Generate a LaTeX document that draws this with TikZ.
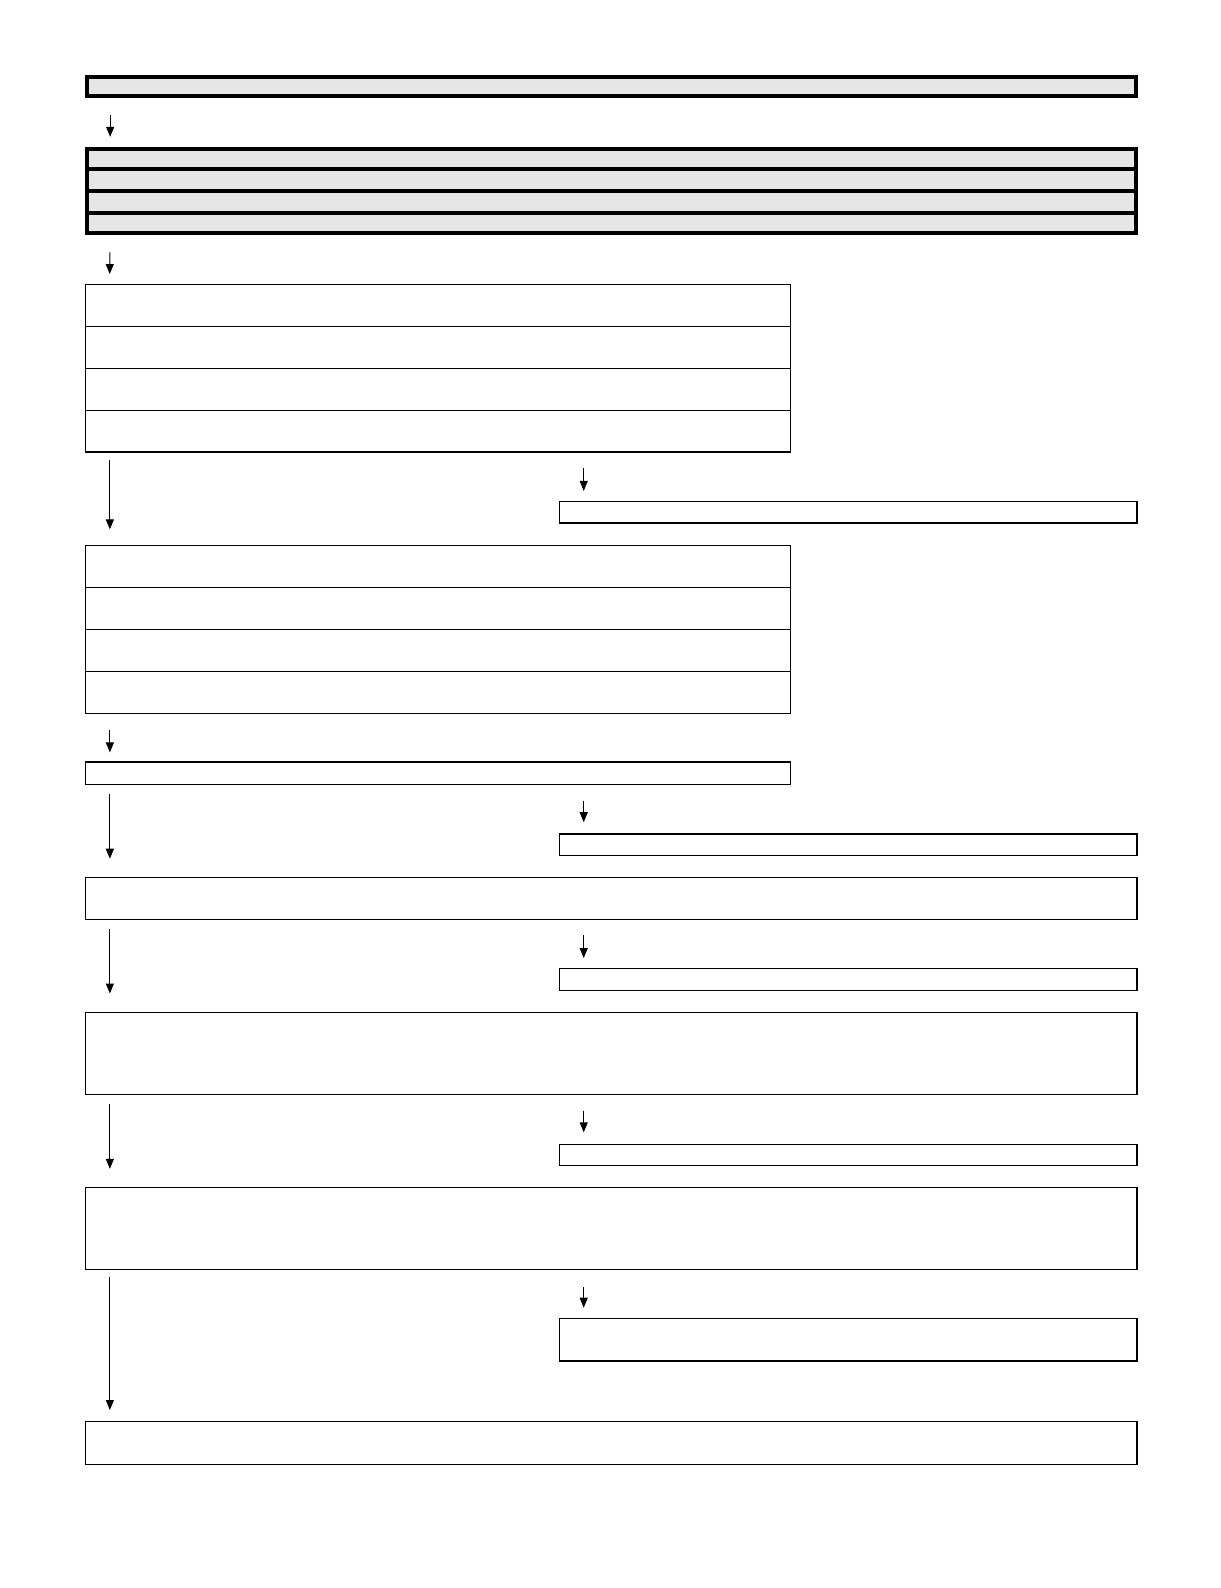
\documentclass[tikz,border=0pt]{standalone}
\usepackage{tikz}
\usetikzlibrary{positioning,fit,calc,arrows.meta}

\begin{document}
\begin{tikzpicture}[x=0.76pt,y=0.76pt,yscale=-1,xscale=1,
  headbox/.style={draw,line width=3pt,fill={rgb, 255:red, 230; green, 230; blue, 230 },inner sep=0pt},
  stepbox/.style={draw,line width=0.9pt,inner sep=0pt},
  flow/.style={line width=0.75pt,-{Triangle[length=7.5pt,width=6pt]}}]

\useasboundingbox (0,0) rectangle (1204,1567);

%Shape: Header
\node [headbox, fit={(86,76) (1121,95)}] (head) {};
%Shape: Header rows
\node [headbox, fit={(86,147) (1121,167)}] (hrow1) {};
\node [headbox, fit={(86,167) (1121,188)}] (hrow2) {};
\node [headbox, fit={(86,188) (1121,210)}] (hrow3) {};
\node [headbox, fit={(86,210) (1121,230)}] (hrow4) {};

%Shape: First group
\node [stepbox, fit={(84,281) (780,322)}] (arow1) {};
\node [stepbox, fit={(84,322) (780,364)}] (arow2) {};
\node [stepbox, fit={(84,364) (780,405)}] (arow3) {};
\node [stepbox, fit={(84,405) (780,446)}] (arow4) {};
%Shape: Second group
\node [stepbox, fit={(84,538) (780,580)}] (brow1) {};
\node [stepbox, fit={(84,580) (780,621)}] (brow2) {};
\node [stepbox, fit={(84,621) (780,663)}] (brow3) {};
\node [stepbox, fit={(84,663) (780,704)}] (brow4) {};
%Shape: Single boxes
\node [stepbox, fit={(84,752) (780,774)}] (cbox) {};
\node [stepbox, fit={(84,866) (1122,907)}] (dbox) {};
\node [stepbox, fit={(84,999) (1122,1080)}] (ebox) {};
\node [stepbox, fit={(84,1172) (1122,1253)}] (fbox) {};
\node [stepbox, fit={(84,1403) (1122,1445)}] (gbox) {};

%Shape: Side boxes
\node [stepbox, fit={(552,495) (1122,516)}] (side1) {};
\node [stepbox, fit={(552,823) (1122,844)}] (side2) {};
\node [stepbox, fit={(552,956) (1122,977)}] (side3) {};
\node [stepbox, fit={(552,1129) (1122,1150)}] (side4) {};
\node [stepbox, fit={(552,1301) (1122,1343)}] (side5) {};

%Side arrow starts
\coordinate (s1) at (576,462);
\coordinate (s2) at (576,790);
\coordinate (s3) at (576,923);
\coordinate (s4) at (576,1096);
\coordinate (s5) at (576,1270);

%Main arrows
\draw [flow, shorten <=12.2pt, shorten >=7.6pt] ([xshift=18.75pt]head.south west) -- ([xshift=18.75pt]hrow1.north west);
\draw [flow, shorten <=12.9pt, shorten >=7.6pt] ([xshift=18.75pt]hrow4.south west) -- ([xshift=18.75pt]arow1.north west);
\draw [flow, shorten <=5.3pt, shorten >=11.4pt] ([xshift=19pt]arow4.south west) -- ([xshift=19pt]brow1.north west);
\draw [flow, shorten <=12.2pt, shorten >=6.8pt] ([xshift=19pt]brow4.south west) -- ([xshift=19pt]cbox.north west);
\draw [flow, shorten <=6.8pt, shorten >=13.7pt] ([xshift=19pt]cbox.south west) -- ([xshift=19pt]dbox.north west);
\draw [flow, shorten <=6.8pt, shorten >=13.7pt] ([xshift=19pt]dbox.south west) -- ([xshift=19pt]ebox.north west);
\draw [flow, shorten <=6.8pt, shorten >=13.7pt] ([xshift=19pt]ebox.south west) -- ([xshift=19pt]fbox.north west);
\draw [flow, shorten <=4.6pt, shorten >=8.4pt] ([xshift=19pt]fbox.south west) -- ([xshift=19pt]gbox.north west);

%Side arrows
\draw [flow, shorten >=7.6pt] (s1) -- (s1 |- side1.north);
\draw [flow, shorten >=8.4pt] (s2) -- (s2 |- side2.north);
\draw [flow, shorten >=7.6pt] (s3) -- (s3 |- side3.north);
\draw [flow, shorten >=8.4pt] (s4) -- (s4 |- side4.north);
\draw [flow, shorten >=7.6pt] (s5) -- (s5 |- side5.north);

\end{tikzpicture}
\end{document}
